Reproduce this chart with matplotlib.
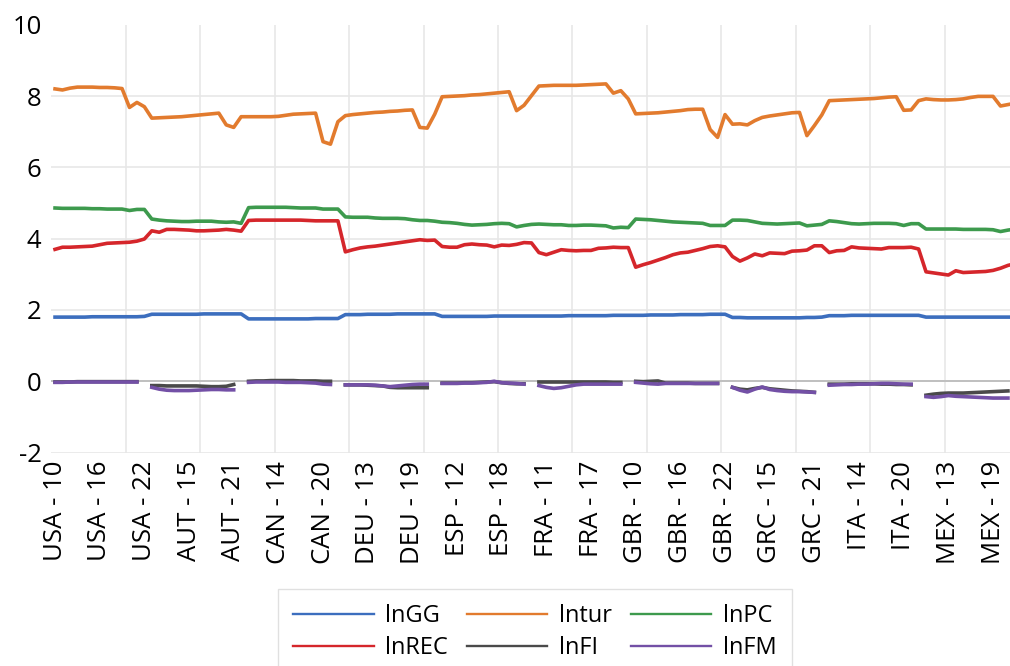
import numpy as np
import matplotlib
matplotlib.use("Agg")
import matplotlib.pyplot as plt

plt.rcParams['font.family'] = ['Open Sans', 'DejaVu Sans']

countries = ["USA", "AUT", "CAN", "DEU", "ESP", "FRA", "GBR", "GRC", "ITA", "MEX"]
years = list(range(10, 23))
nan = np.nan

# one row per country, years 2010..2022
lnGG = [
    1.80, 1.80, 1.80, 1.80, 1.80, 1.81, 1.81, 1.81, 1.81, 1.81, 1.81, 1.81, 1.82,
    1.88, 1.88, 1.88, 1.88, 1.88, 1.88, 1.88, 1.89, 1.89, 1.89, 1.89, 1.89, 1.89,
    1.75, 1.75, 1.75, 1.75, 1.75, 1.75, 1.75, 1.75, 1.75, 1.76, 1.76, 1.76, 1.76,
    1.87, 1.87, 1.87, 1.88, 1.88, 1.88, 1.88, 1.89, 1.89, 1.89, 1.89, 1.89, 1.89,
    1.82, 1.82, 1.82, 1.82, 1.82, 1.82, 1.82, 1.83, 1.83, 1.83, 1.83, 1.83, 1.83,
    1.83, 1.83, 1.83, 1.83, 1.84, 1.84, 1.84, 1.84, 1.84, 1.84, 1.85, 1.85, 1.85,
    1.85, 1.85, 1.86, 1.86, 1.86, 1.86, 1.87, 1.87, 1.87, 1.87, 1.88, 1.88, 1.88,
    1.79, 1.79, 1.78, 1.78, 1.78, 1.78, 1.78, 1.78, 1.78, 1.78, 1.79, 1.79, 1.80,
    1.84, 1.84, 1.84, 1.85, 1.85, 1.85, 1.85, 1.85, 1.85, 1.85, 1.85, 1.85, 1.85,
    1.80, 1.80, 1.80, 1.80, 1.80, 1.80, 1.80, 1.80, 1.80, 1.80, 1.80, 1.80, 1.80,
]
lntur = [
    8.20, 8.17, 8.22, 8.25, 8.25, 8.25, 8.24, 8.24, 8.23, 8.21, 7.68, 7.82, 7.70,
    7.38, 7.39, 7.40, 7.41, 7.42, 7.44, 7.46, 7.48, 7.50, 7.52, 7.19, 7.12, 7.42,
    7.42, 7.42, 7.42, 7.42, 7.43, 7.46, 7.49, 7.50, 7.51, 7.52, 6.72, 6.65, 7.28,
    7.45, 7.48, 7.50, 7.52, 7.54, 7.55, 7.57, 7.58, 7.60, 7.61, 7.12, 7.10, 7.49,
    7.98, 7.99, 8.00, 8.01, 8.03, 8.04, 8.06, 8.08, 8.10, 8.12, 7.59, 7.74, 8.01,
    8.28, 8.29, 8.30, 8.30, 8.30, 8.30, 8.31, 8.32, 8.33, 8.34, 8.08, 8.15, 7.92,
    7.50, 7.51, 7.52, 7.53, 7.55, 7.57, 7.59, 7.62, 7.63, 7.63, 7.06, 6.84, 7.48,
    7.21, 7.22, 7.19, 7.31, 7.40, 7.44, 7.47, 7.50, 7.53, 7.54, 6.89, 7.17, 7.47,
    7.87, 7.88, 7.89, 7.90, 7.91, 7.92, 7.93, 7.95, 7.97, 7.98, 7.60, 7.61, 7.87,
    7.92, 7.90, 7.89, 7.89, 7.90, 7.92, 7.96, 7.99, 7.99, 7.99, 7.72, 7.76, 7.80,
]
lnPC = [
    4.86, 4.85, 4.85, 4.85, 4.85, 4.84, 4.84, 4.83, 4.83, 4.83, 4.79, 4.82, 4.82,
    4.55, 4.52, 4.50, 4.49, 4.48, 4.48, 4.49, 4.49, 4.49, 4.47, 4.46, 4.47, 4.43,
    4.87, 4.88, 4.88, 4.88, 4.88, 4.88, 4.87, 4.86, 4.86, 4.86, 4.83, 4.83, 4.83,
    4.61, 4.60, 4.60, 4.60, 4.58, 4.57, 4.57, 4.57, 4.56, 4.53, 4.51, 4.51, 4.49,
    4.46, 4.45, 4.43, 4.40, 4.38, 4.39, 4.40, 4.42, 4.43, 4.42, 4.33, 4.37, 4.40,
    4.41, 4.40, 4.39, 4.39, 4.37, 4.37, 4.38, 4.38, 4.37, 4.36, 4.30, 4.32, 4.31,
    4.55, 4.54, 4.53, 4.51, 4.49, 4.47, 4.46, 4.45, 4.44, 4.43, 4.37, 4.37, 4.37,
    4.52, 4.52, 4.51, 4.47, 4.43, 4.42, 4.41, 4.42, 4.43, 4.44, 4.36, 4.38, 4.40,
    4.50, 4.48, 4.45, 4.42, 4.41, 4.42, 4.43, 4.43, 4.43, 4.42, 4.37, 4.42, 4.42,
    4.27, 4.27, 4.27, 4.27, 4.27, 4.26, 4.26, 4.26, 4.26, 4.25, 4.20, 4.24, 4.27,
]
lnREC = [
    3.70, 3.76, 3.76, 3.77, 3.78, 3.79, 3.83, 3.87, 3.88, 3.89, 3.90, 3.93, 3.99,
    4.22, 4.18, 4.26, 4.26, 4.25, 4.24, 4.22, 4.22, 4.23, 4.24, 4.26, 4.24, 4.21,
    4.51, 4.52, 4.52, 4.52, 4.52, 4.52, 4.52, 4.52, 4.51, 4.50, 4.50, 4.50, 4.50,
    3.63, 3.69, 3.74, 3.77, 3.79, 3.82, 3.85, 3.88, 3.91, 3.94, 3.97, 3.95, 3.96,
    3.78, 3.76, 3.76, 3.83, 3.85, 3.83, 3.82, 3.77, 3.82, 3.81, 3.84, 3.89, 3.88,
    3.61, 3.55, 3.62, 3.69, 3.67, 3.66, 3.67, 3.67, 3.73, 3.74, 3.76, 3.75, 3.75,
    3.20, 3.27, 3.33, 3.40, 3.47, 3.55, 3.60, 3.62, 3.67, 3.72, 3.78, 3.80, 3.77,
    3.50, 3.37, 3.46, 3.57, 3.52, 3.60, 3.59, 3.58, 3.65, 3.66, 3.68, 3.80, 3.80,
    3.61, 3.66, 3.67, 3.77, 3.74, 3.73, 3.72, 3.71, 3.75, 3.75, 3.75, 3.76, 3.71,
    3.07, 3.04, 3.01, 2.98, 3.10, 3.05, 3.06, 3.07, 3.08, 3.11, 3.17, 3.25, 3.30,
]
# no 2022 value for the two financial series
lnFI = [
    -0.02, -0.02, -0.02, -0.01, -0.01, -0.01, -0.01, -0.01, -0.01, -0.01, -0.01, -0.01, nan,
    -0.12, -0.12, -0.13, -0.13, -0.13, -0.13, -0.13, -0.14, -0.15, -0.15, -0.14, -0.09, nan,
    0.00, 0.01, 0.01, 0.02, 0.02, 0.02, 0.02, 0.01, 0.01, 0.01, 0.00, 0.00, nan,
    -0.10, -0.10, -0.10, -0.11, -0.12, -0.13, -0.17, -0.18, -0.18, -0.18, -0.18, -0.18, nan,
    -0.05, -0.05, -0.05, -0.04, -0.04, -0.03, -0.02, -0.01, -0.04, -0.06, -0.07, -0.07, nan,
    -0.02, -0.02, -0.02, -0.02, -0.02, -0.02, -0.02, -0.02, -0.02, -0.02, -0.03, -0.03, nan,
    0.00, -0.01, 0.00, 0.01, -0.05, -0.05, -0.05, -0.05, -0.06, -0.06, -0.06, -0.06, nan,
    -0.17, -0.22, -0.24, -0.20, -0.17, -0.21, -0.23, -0.25, -0.27, -0.28, -0.29, -0.31, nan,
    -0.08, -0.08, -0.08, -0.07, -0.07, -0.07, -0.07, -0.08, -0.08, -0.09, -0.09, -0.10, nan,
    -0.39, -0.36, -0.34, -0.33, -0.33, -0.33, -0.32, -0.31, -0.30, -0.29, -0.28, -0.27, nan,
]
lnFM = [
    -0.03, -0.03, -0.02, -0.02, -0.02, -0.02, -0.02, -0.02, -0.02, -0.02, -0.02, -0.02, nan,
    -0.17, -0.22, -0.25, -0.26, -0.26, -0.26, -0.25, -0.24, -0.23, -0.23, -0.24, -0.24, nan,
    -0.03, -0.02, -0.02, -0.02, -0.02, -0.03, -0.03, -0.03, -0.04, -0.05, -0.08, -0.09, nan,
    -0.10, -0.10, -0.10, -0.10, -0.11, -0.13, -0.15, -0.13, -0.11, -0.09, -0.08, -0.08, nan,
    -0.06, -0.06, -0.06, -0.05, -0.05, -0.04, -0.03, 0.00, -0.04, -0.05, -0.06, -0.08, nan,
    -0.12, -0.17, -0.20, -0.18, -0.14, -0.10, -0.08, -0.08, -0.08, -0.08, -0.08, -0.08, nan,
    -0.03, -0.05, -0.07, -0.08, -0.06, -0.06, -0.06, -0.06, -0.06, -0.06, -0.06, -0.06, nan,
    -0.17, -0.25, -0.30, -0.22, -0.16, -0.23, -0.26, -0.28, -0.29, -0.29, -0.30, -0.31, nan,
    -0.11, -0.10, -0.09, -0.09, -0.08, -0.08, -0.07, -0.06, -0.06, -0.07, -0.08, -0.08, nan,
    -0.43, -0.45, -0.43, -0.40, -0.42, -0.43, -0.44, -0.45, -0.46, -0.47, -0.47, -0.47, nan,
]

labels = [f"{c} - {y}" for c in countries for y in years]
x = np.arange(len(labels))

series = [
    ("lnGG", lnGG, "#3C6EBE"),
    ("lntur", lntur, "#E27B2E"),
    ("lnPC", lnPC, "#3D9A4D"),
    ("lnREC", lnREC, "#D5262B"),
    ("lnFI", lnFI, "#4A4A4A"),
    ("lnFM", lnFM, "#7350A6"),
]

fig = plt.figure(figsize=(10.1, 6.66), dpi=100)
# plot area runs a little past the right edge of the picture
ax = fig.add_axes([0.0508, 0.3204, 0.9582, 0.6425])

lines = []
for name, vals, col in series:
    ln, = ax.plot(x, vals, color=col, lw=2.6, label=name, zorder=3)
    lines.append(ln)

ax.set_xlim(-0.5, len(x) - 0.5)
ax.set_ylim(-2, 10)

for v in [-2, 2, 4, 6, 8]:
    ax.axhline(v, color="#e6e6e6", lw=1.1, zorder=1)
ax.axhline(0, color="#bfbfbf", lw=1.4, zorder=2)
for v in np.arange(9.5, len(x) - 1, 10):
    ax.axvline(v, color="#e6e6e6", lw=1.1, zorder=1)

ax.set_yticks([-2, 0, 2, 4, 6, 8, 10])
ax.set_yticklabels(["-2", "0", "2", "4", "6", "8", "10"])
ax.set_xticks(x[::6])
ax.set_xticklabels(labels[::6], rotation=90)
ax.tick_params(axis="y", length=0, pad=7, labelsize=18.5)
ax.tick_params(axis="x", length=0, pad=6, labelsize=18.5)
for s in ax.spines.values():
    s.set_visible(False)

# legend reads row by row, matplotlib fills columns first
order = [0, 3, 1, 4, 2, 5]
leg = fig.legend([lines[k] for k in order], [series[k][0] for k in order],
                 loc="upper center", bbox_to_anchor=(0.5297, 0.1156), ncol=3,
                 fontsize=17, frameon=True, fancybox=False, edgecolor="#d9d9d9",
                 handlelength=3.4, handletextpad=0.5, columnspacing=0.8,
                 borderpad=0.65, labelspacing=0.32, borderaxespad=0)
leg.get_frame().set_linewidth(1.0)
for h in leg.get_lines():
    h.set_linewidth(1.7)

fig.savefig("out.png", dpi=100)
